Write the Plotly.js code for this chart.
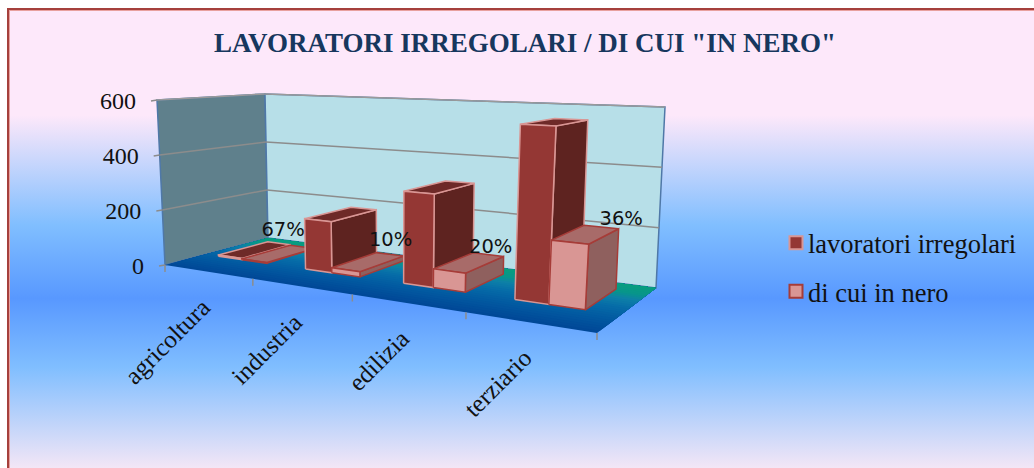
<!DOCTYPE html>
<html><head><meta charset="utf-8">
<script src="https://cdn.plot.ly/plotly-3.0.1.min.js"></script>
<style>
html,body{margin:0;padding:0;background:#fff;width:1034px;height:468px;overflow:hidden}
#bg{position:absolute;left:7px;top:8px;width:1027px;height:460px;box-sizing:border-box;
 border-left:2px solid #a5403c;border-top:2px solid #a5403c;box-shadow:inset 1px 1px 0 #e8a09e;
 background:linear-gradient(to bottom,#fde8fa 0%,#fde8fa 23%,#80beff 47%,#5898ff 63%,#80beff 78%,#f3e6f6 100%);}
#chart{position:absolute;left:0;top:0;width:1034px;height:468px}
.legendpoints{transform:translateX(8px)}
</style></head><body>
<div id="bg"></div><div id="chart"></div>
<script>
const categories=['agricoltura','industria','edilizia','terziario'];
const lavoratori=[5,180,310,553];
const inNero=[3,18,62,199];
const percentuali=['67%','10%','20%','36%'];
const yTicks=[0,200,400,600];
const yMax=600;

const floorC=[[165,265],[597,333],[656,288],[268,238]];
const topC=[[157,100],[611,118],[665,107],[265,94]];
function homo(p){
 const [x0,y0]=p[0],[x1,y1]=p[1],[x2,y2]=p[2],[x3,y3]=p[3];
 const dx1=x1-x2,dx2=x3-x2,sx=x0-x1+x2-x3,dy1=y1-y2,dy2=y3-y2,sy=y0-y1+y2-y3;
 const den=dx1*dy2-dx2*dy1,g=(sx*dy2-dx2*sy)/den,h=(dx1*sy-sx*dy1)/den;
 const a=x1-x0+g*x1,b=x3-x0+h*x3,d=y1-y0+g*y1,e=y3-y0+h*y3;
 return (s,t)=>{const w=g*s+h*t+1;return [(a*s+b*t+x0)/w,(d*s+e*t+y0)/w];};
}
const hf=homo(floorC),ht=homo(topC);
function P(u,d,v){const A=hf(u/4,d),B=ht(u/4,d),k=v/yMax;return [A[0]+(B[0]-A[0])*k,A[1]+(B[1]-A[1])*k];}

const traces=[];
function face(pts,fill,line,lw){
 const q=pts.concat([pts[0]]);
 traces.push({type:'scatter',mode:line?'lines':'none',x:q.map(p=>p[0]),y:q.map(p=>p[1]),fill:'toself',fillcolor:fill,
  line:{color:line||fill,width:lw==null?1.5:lw},hoverinfo:'skip',showlegend:false});
}
function seg(list,color,w){
 const x=[],y=[];list.forEach(s=>{x.push(s[0][0],s[1][0],null);y.push(s[0][1],s[1][1],null);});
 traces.push({type:'scatter',mode:'lines',x,y,line:{color,width:w},hoverinfo:'skip',showlegend:false});
}
// walls
face([P(0,0,0),P(0,1,0),P(0,1,yMax),P(0,0,yMax)],'#5f808c','#4f78a8',1.5);
face([P(0,1,0),P(4,1,0),P(4,1,yMax),P(0,1,yMax)],'#b7dfe8','#4f78a8',1.5);
seg([[P(0,0,yMax),P(0,1,yMax)],[P(0,1,yMax),P(4,1,yMax)]],'#9a9a9a',1.5);
seg(yTicks.slice(1,3).flatMap(v=>[[P(0,0,v),P(0,1,v)],[P(0,1,v),P(4,1,v)]]),'#8c8c8c',1.5);
seg(yTicks.map(v=>{const p=P(0,0,v);return [[p[0]-6,p[1]+1],p];}),'#8c8c8c',1.5);
// floor, shaded by depth: each band covers everything behind it
const stops=[[0,[0,70,150]],[0.25,[2,88,160]],[0.5,[6,108,168]],[0.68,[14,128,168]],[0.8,[8,148,140]],[1,[8,158,125]]];
function col(d){for(let i=1;i<stops.length;i++){if(d<=stops[i][0]){const a=stops[i-1],b=stops[i],k=(d-a[0])/(b[0]-a[0]);
 return 'rgb('+a[1].map((c,j)=>Math.round(c+(b[1][j]-c)*k)).join(',')+')';}}}
const N=24;
for(let i=0;i<N;i++){const a=i/N;face([P(0,a,0),P(4,a,0),P(4,1,0),P(0,1,0)],col((i+.5)/N),null);}
seg([0,1,2,3,4].map(i=>{const p=P(i,0,0);return [p,[p[0],p[1]+7]];}),'#8c8c8c',1.5);
// bars
const uA=0.16,uB=0.44,uC=0.73,d0=0.36,d1=0.86;
function bar(u1,u2,v,front,side,top,edge){
 if(v<=0)return;
 face([P(u2,d0,0),P(u2,d1,0),P(u2,d1,v),P(u2,d0,v)],side,edge);
 face([P(u1,d0,v),P(u2,d0,v),P(u2,d1,v),P(u1,d1,v)],top,edge);
 face([P(u1,d0,0),P(u2,d0,0),P(u2,d0,v),P(u1,d0,v)],front,edge);
}
categories.forEach((c,i)=>{
 bar(i+uA,i+uB,lavoratori[i],'#943734','#5e2320','#6e2a28','#d99694');
 bar(i+uB,i+uC,inNero[i],'#d99694','#8f605e','#a86b69','#a63c38');
});
// value labels
const labelDx=[4,22,21,35],labelDy=[-22,-21,-14,-14];
const lab=categories.map((c,i)=>{const p=P(i+(uB+uC)/2,(d0+d1)/2,inNero[i]);return [p[0]+labelDx[i],p[1]+labelDy[i]];});
traces.push({type:'scatter',mode:'text',x:lab.map(p=>p[0]),y:lab.map(p=>p[1]),text:percentuali,textposition:'middle center',
 textfont:{family:'DejaVu Sans',size:19.5,color:'#111'},hoverinfo:'skip',showlegend:false});
// y tick labels
const yl=yTicks.map(v=>{const p=P(0,0,v);return [p[0]-21,p[1]+3];});
traces.push({type:'scatter',mode:'text',x:yl.map(p=>p[0]),y:yl.map(p=>p[1]),text:yTicks.map(String),textposition:'middle left',
 textfont:{family:'Liberation Serif',size:24,color:'#111'},hoverinfo:'skip',showlegend:false});
// legend
[['lavoratori irregolari','#943734','#d99694'],['di cui in nero','#d99694','#a63c38']].forEach((s,i)=>{
 traces.push({type:'scatter',mode:'markers',x:[null],y:[null],name:s[0],legendgroup:'g'+i,showlegend:true,
  marker:{symbol:'square',size:13,color:s[1],line:{color:s[2],width:2}}});
});
const annotations=categories.map((c,i)=>{const p=P(i+.5,0,0);return {xref:'x',yref:'y',x:p[0]+10,y:p[1]+19,text:c,showarrow:false,textangle:-45,
 xanchor:'right',yanchor:'top',font:{family:'Liberation Serif',size:25,color:'#111'}};});
Plotly.newPlot('chart',traces,{
 width:1034,height:468,margin:{l:0,r:0,t:0,b:0},paper_bgcolor:'rgba(0,0,0,0)',plot_bgcolor:'rgba(0,0,0,0)',
 title:{text:'LAVORATORI IRREGOLARI / DI CUI "IN NERO"',x:525/1034,xanchor:'center',y:1-43/468,yanchor:'middle',
  font:{family:'Liberation Serif',size:27,weight:700,color:'#17375e'}},
 xaxis:{range:[0,1034],visible:false,fixedrange:true},
 yaxis:{range:[468,0],visible:false,fixedrange:true},
 showlegend:true,
 legend:{x:768/1034,y:1-219/468,xanchor:'left',yanchor:'top',bgcolor:'rgba(0,0,0,0)',tracegroupgap:11,
  font:{family:'Liberation Serif',size:26.5,color:'#111'}},
 annotations
},{displayModeBar:false,staticPlot:true});
</script></body></html>
